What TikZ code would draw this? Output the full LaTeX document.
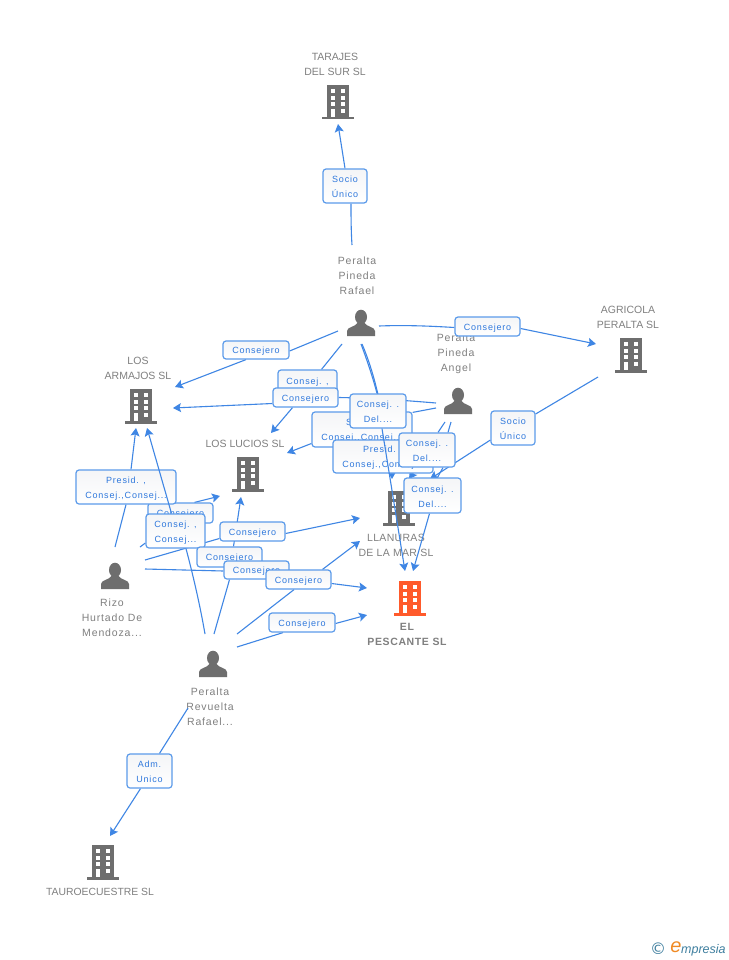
\documentclass[tikz,border=0pt]{standalone}
\usepackage{fontspec}
\setmainfont{Liberation Sans}
\newfontfamily\djv{DejaVu Sans}
\usetikzlibrary{arrows.meta}
\definecolor{edgeblue}{HTML}{3F86E4}
\definecolor{boxblue}{HTML}{5C9BEA}
\definecolor{txtblue}{HTML}{2F78DC}
\definecolor{txtgray}{HTML}{808080}
\definecolor{icongray}{HTML}{6E6E6E}
\definecolor{iconred}{HTML}{FF5A2B}
\definecolor{logoteal}{HTML}{3F7F9F}
\definecolor{logoorange}{HTML}{F08A24}
\definecolor{boxtop}{HTML}{F4F5F7}
\pgfdeclarelayer{bg}\pgfdeclarelayer{top}\pgfsetlayers{bg,main,top}
\tikzset{
 x=1pt,y=-1pt,
 edge/.style={draw=edgeblue,line width=1.1pt},
 arr/.style={edge,-{Stealth[inset=1.6pt,length=8pt,width=9pt]}},
 lbl/.style={draw=boxblue,line width=1.2pt,rounded corners=3pt,top color=boxtop,bottom color=white,inner sep=0pt,align=center,text=txtblue,font=\fontsize{9}{15}\selectfont\addfontfeatures{LetterSpace=9}},
 captext/.style={text=txtgray,align=center,inner sep=0pt,font=\fontsize{10.5}{14.8}\selectfont},
 perscap/.style={captext,font=\fontsize{10.5}{14.8}\selectfont\addfontfeatures{LetterSpace=8}},
 bld/.pic={
  \fill[#1] (-11,-17) rectangle (11,15);
  \fill[#1] (-16,15) rectangle (16,17.5);
  \foreach \yy in {-13,-6,0,7}{
    \fill[white] (-7.2,\yy) rectangle (-2.6,\yy+4.4);
    \fill[white] (2.6,\yy) rectangle (7.2,\yy+4.4);}
  \fill[white] (-7.2,7) rectangle (-2.6,15);
 },
 pers/.pic={
  \fill[icongray] (0,-6) ellipse (6 and 7.3);
  \fill[icongray] (-14,13) -- (-14,8) .. controls (-14,4) and (-6,4) .. (-3.5,0) -- (3.5,0) .. controls (6,4) and (14,4) .. (14,8) -- (14,13) -- cycle;
 },
}
\newcommand{\boxat}[6]{% name x1 y1 x2 y2 text
 \pgfmathsetmacro{\bw}{#4-#2}\pgfmathsetmacro{\bh}{#5-#3}
 \pgfmathsetmacro{\bx}{(#2+#4)/2}\pgfmathsetmacro{\by}{(#3+#5)/2}
 \node[lbl,minimum width=\bw pt,minimum height=\bh pt] (#1) at (\bx,\by) {\rule{0pt}{9pt}#6};}
\begin{document}
\begin{tikzpicture}
\useasboundingbox (0,0) rectangle (728,960);
% label boxes, back to front
\boxat{bTar}{323}{169}{367}{203}{Socio\\Único}
\boxat{bArm}{223}{341}{289}{359}{Consejero}
\boxat{bAgr}{455}{317}{520}{336}{Consejero}
\boxat{bCons}{278}{370}{337}{404}{Consej. ,\\ }
\boxat{bAng}{273}{388}{338}{407}{Consejero}
\boxat{bSoc}{312}{412}{412}{447}{Socio ,\\Consej.,Consej...}
\boxat{bPre}{333}{440}{433}{473}{Presid. ,\\Consej.,Consej...}
\boxat{bDelA}{350}{394}{406}{428}{Consej. .\\Del....}
\boxat{bDelB}{399}{433}{455}{467}{Consej. .\\Del....}
\boxat{bDelC}{404}{478}{461}{513}{Consej. .\\Del....}
\boxat{bUni}{491}{411}{535}{445}{Socio\\Único}
\boxat{bHid}{148}{503}{213}{523}{Consejero}
\boxat{bPreL}{76}{470}{176}{504}{Presid. ,\\Consej.,Consej...}
\boxat{bConL}{146}{514}{205}{548}{Consej. ,\\Consej...}
\boxat{bLuc}{197}{547}{262}{567}{Consejero}
\boxat{bLla}{220}{522}{285}{541}{Consejero}
\boxat{bRev}{224}{561}{289}{579}{Consejero}
\boxat{bPes}{266}{570}{331}{589}{Consejero}
\boxat{bPesB}{269}{613}{335}{632}{Consejero}
\boxat{bAdm}{127}{754}{172}{788}{Adm.\\Unico}
\begin{pgfonlayer}{bg}
\fill[white] (0,0) rectangle (728,960);
% entities
\coordinate (tarajes) at (338,102);
\coordinate (agricola) at (631,355);
\coordinate (armajos) at (141,406);
\coordinate (lucios) at (248,474);
\coordinate (llanuras) at (399,508);
\coordinate (pescante) at (410,598);
\coordinate (tauro) at (103,862);
\coordinate (rafael) at (361,323);
\coordinate (angel) at (458,401);
\coordinate (rizo) at (115,576);
\coordinate (revuelta) at (213,664);
\pic at (tarajes) {bld=icongray};
\pic at (agricola) {bld=icongray};
\pic at (armajos) {bld=icongray};
\pic at (lucios) {bld=icongray};
\pic at (llanuras) {bld=icongray};
\pic at (pescante) {bld=iconred};
\pic at (tauro) {bld=icongray};
\pic at (rafael) {pers};
\pic at (angel) {pers};
\pic at (rizo) {pers};
\pic at (revuelta) {pers};
% captions
\node[captext] (tTar) at (335,64) {TARAJES\\DEL SUR SL};
\node[perscap] (tRaf) at (357,275.5) {Peralta\\Pineda\\Rafael};
\node[captext] (tAgr) at (628,317) {AGRICOLA\\PERALTA SL};
\node[perscap] (tAng) at (456,353.5) {Peralta\\Pineda\\Angel};
\node[captext] (tArm) at (138,368) {LOS\\ARMAJOS SL};
\node[captext] (tLuc) at (245,443.5) {LOS LUCIOS SL};
\node[captext,font=\fontsize{10.5}{14.8}\selectfont\addfontfeatures{LetterSpace=3}] (tLla) at (396,545) {LLANURAS\\DE LA MAR SL};
\node[captext,font=\fontsize{10.5}{14.8}\selectfont\bfseries\addfontfeatures{LetterSpace=6}] (tPes) at (407,634.5) {EL\\PESCANTE SL};
\node[perscap] (tRiz) at (112,618) {Rizo\\Hurtado De\\Mendoza...};
\node[perscap] (tRev) at (210,706.5) {Peralta\\Revuelta\\Rafael...};
\node[captext,font=\fontsize{10.4}{12}\selectfont] (tTau) at (100,891.5) {TAUROECUESTRE SL};
% connector ends
\coordinate (aTar) at (338,124);
\coordinate (aArm) at (175,387);
\coordinate (aAgr) at (596,344);
\coordinate (aLucA) at (271,433);
\coordinate (aArmB) at (173,408);
\coordinate (aLucB) at (287,453);
\coordinate (aLlaA) at (392,479);
\coordinate (aLlaB) at (409,479);
\coordinate (aLlaC) at (430,479);
\coordinate (aPesA) at (405,571);
\coordinate (aPesB) at (413,571);
\coordinate (aArmC) at (136,428);
\coordinate (aArmD) at (147,428);
\coordinate (aLucC) at (220,496);
\coordinate (aLucD) at (241,497);
\coordinate (aLlaD) at (360,518);
\coordinate (aLlaE) at (360,541);
\coordinate (aPesC) at (367,588);
\coordinate (aPesD) at (367,615);
\coordinate (aTau) at (110,836);
% Tarajes
\draw[edge] (352,245) .. controls (351,230) and (351,215) .. ([xshift=6pt]bTar.south);
\draw[arr] (bTar.north) -- (aTar);
% Rafael
\draw[edge] (338,331) -- ([yshift=-1pt]bArm.east);
\draw[arr] ([xshift=-10pt]bArm.south) -- (aArm);
\draw[edge] (379,326) .. controls (405,325) and (430,326) .. ([yshift=-1pt]bAgr.west);
\draw[arr] ([yshift=-2pt]bAgr.east) -- (aAgr);
\draw[edge] (342,344) -- ([xshift=14pt]bCons.north);
\draw[arr] ([xshift=-13pt]bAng.south) -- (aLucA);
\draw[edge] (361,344) .. controls (367,360) and (373,378) .. ([xshift=-1pt]bDelA.north);
\draw[edge] (362,344) .. controls (371,365) and (380,395) .. ([xshift=3pt]bPre.north);
\draw[arr] ([xshift=9pt]bPre.south) -- (aLlaA);
% Angel
\draw[edge] (436,403) .. controls (400,400) and (370,398) .. (bAng.east);
\draw[arr] ([yshift=-6pt]bAng.west) -- (aArmB);
\draw[edge] (436,408) -- ([yshift=-1pt]bSoc.north east);
\draw[arr] ([yshift=-14pt]bSoc.west) -- (aLucB);
\draw[edge] (445,422) -- ([xshift=11pt]bDelB.north);
\draw[edge] (451,422) -- ([xshift=21pt]bDelB.north);
\draw[arr] ([xshift=-10pt]bDelB.south) -- (aLlaB);
\draw[edge] ([xshift=16pt]bDelB.south) -- ([xshift=5pt]bDelC.north);
\draw[arr] ([xshift=-3pt]bDelC.south) -- (aPesB);
% Agricola
\draw[edge] (598,377) -- ([yshift=14pt]bUni.east);
\draw[arr] ([yshift=-12pt]bUni.west) -- (aLlaC);
% Rizo
\draw[edge] (115,547) -- ([xshift=0pt]bPreL.south);
\draw[arr] ([xshift=5pt]bPreL.north) -- (aArmC);
\draw[edge] (140,547) -- ([yshift=-12pt]bConL.west);
\draw[arr] ([xshift=14pt]bHid.north) -- (aLucC);
\draw[edge] (145,560) -- ([yshift=-7pt]bLla.west);
\draw[arr] ([yshift=-2pt]bLla.east) -- (aLlaD);
\draw[edge] (145,569) -- ([yshift=-1pt]bRev.west);
\draw[arr] ([yshift=-4pt]bPes.east) -- (aPesC);
% Revuelta
\draw[edge] (205,634) .. controls (200,605) and (193,575) .. ([xshift=10.5pt]bConL.south);
\draw[edge] (214,634) -- ([xshift=-27pt]bRev.south);
\draw[edge] ([xshift=-25.5pt]bRev.north) -- ([xshift=4pt]bLuc.south);
\draw[arr] ([xshift=4pt]bLuc.north) -- (aLucD);
\draw[edge] (237,634) -- ([xshift=-4.5pt]bPes.south);
\draw[arr] ([xshift=24pt]bPes.north) -- (aLlaE);
\draw[edge] (237,647) -- ([xshift=-19pt]bPesB.south);
\draw[arr] ([yshift=-1pt]bPesB.east) -- (aPesD);
\draw[edge] (188,708) -- ([xshift=10pt]bAdm.north);
\draw[arr] ([xshift=-9pt]bAdm.south) -- (aTau);
% logo
\node[inner sep=0pt,text=logoteal,font=\djv\fontsize{16}{16}\selectfont] (lc) at (658,949) {©};
\node[inner sep=0pt,text=logoorange,font=\fontsize{20}{20}\selectfont\itshape] (le) at (676,947) {e};
\node[inner sep=0pt,text=logoteal,anchor=west,font=\fontsize{12.5}{13}\selectfont\itshape] (lm) at (681,950) {mpresia};
\end{pgfonlayer}
\begin{pgfonlayer}{top}
\draw[arr] ([xshift=4pt]bDelA.south) -- (aPesA);
\draw[arr] ([xshift=-4pt]bConL.north) -- (aArmD);
\end{pgfonlayer}
\end{tikzpicture}
\end{document}
